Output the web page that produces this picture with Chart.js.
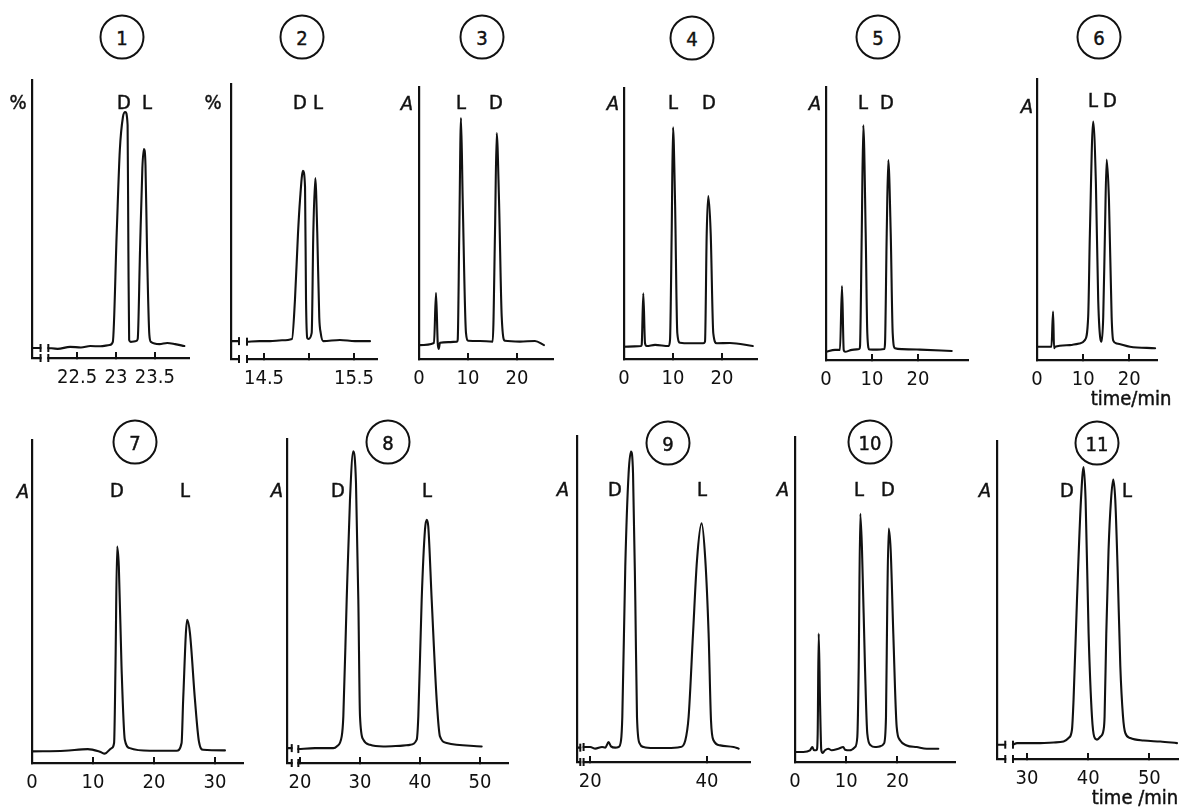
<!DOCTYPE html>
<html><head><meta charset="utf-8">
<script src="https://cdn.jsdelivr.net/npm/chart.js@4.4.1/dist/chart.umd.min.js"></script>
<style>
html,body{margin:0;padding:0;background:#fff;}
#page{position:relative;width:1179px;height:807px;overflow:hidden;background:#fff;}
#page canvas{position:absolute;}
.t{position:absolute;transform:translate(-50%,-50%);font-family:'Liberation Sans Narrow','DejaVu Sans Condensed','Liberation Sans',sans-serif;font-size:20px;color:#111;line-height:1;white-space:nowrap;-webkit-text-stroke:0.45px #111;}
.circ{width:41px;height:41px;border:2px solid #111;border-radius:50%;display:flex;align-items:center;justify-content:center;}
.ax{font-style:italic;}
</style></head><body><div id="page"></div>
<script>
// ---------- data ----------
const panelNumbers = ['1','2','3','4','5','6','7','8','9','10','11'];
const yAxisLabels  = ['%','%','A','A','A','A','A','A','A','A','A'];
const peakLabels = [['D','L'],['D','L'],['L','D'],['L','D'],['L','D'],['L','D'],['D','L'],['D','L'],['D','L'],['L','D'],['D','L']];

const p1Time   = [21.92,22.03,22.08,22.13,22.25,22.41,22.55,22.67,22.8,22.92,22.96,23.01,23.05,23.09,23.12,23.15,23.16,23.17,23.19,23.26,23.28,23.31,23.34,23.36,23.38,23.40,23.43,23.45,23.56,23.66,23.76,23.88];
const p1Signal = [3.6,3.6,null,3.6,3.3,4.0,3.8,4.3,4.2,4.7,5.8,45.0,74.8,86.7,88.5,83.8,38.8,6.5,5.8,6.1,6.8,38.8,68.3,75.2,69.4,38.8,8.3,5.8,5.0,5.4,5.0,4.3];
const p1Ticks = [22.5,23,23.5];
const p1TickLabels = ['22.5','23','23.5'];

const p2Time   = [14.133,14.222,14.27,14.311,14.45,14.567,14.7,14.811,14.844,14.878,14.9,14.933,14.956,14.967,14.981,14.994,15.03,15.048,15.07,15.092,15.114,15.13,15.159,15.344,15.511,15.678];
const p2Signal = [6.5,6.5,null,6.3,6.5,6.5,6.8,7.3,21.5,45.8,57.8,68.4,62.5,21.5,7.6,7.3,9.5,45.8,65.8,45.8,15.3,9.5,6.5,6.9,6.5,6.5];
const p2Ticks = [14.5,15,15.5];
const p2TickLabels = ['14.5','','15.5'];

const p3Time   = [0,3.06,3.47,3.82,4.02,4.29,6.0,7.76,7.9,8.22,8.57,8.92,9.59,10.06,12.45,15.04,15.51,15.86,16.33,16.88,17.55,20.6,23.67,25.5];
const p3Signal = [5.1,5.9,24.3,5.9,3.7,6.0,6.2,6.4,7.0,46.3,88.6,58.5,9.6,6.7,6.6,6.4,46.3,83.1,58.5,15.6,6.7,6.4,6.6,5.1];
const p3Ticks = [0,10,20];
const p3TickLabels = ['0','10','20'];

const p4Time   = [0,3.47,3.61,3.94,4.29,4.63,6.33,9.12,9.39,9.73,10.0,10.41,10.88,11.43,13.47,16.18,16.53,16.88,17.2,17.69,18.22,18.92,21.63,26.27];
const p4Signal = [4.5,4.8,5.2,24.2,5.8,4.8,5.2,4.8,7.0,46.5,85.5,58.7,9.5,6.0,5.8,5.8,6.4,46.4,60.1,46.4,9.5,5.8,5.9,4.8];
const p4Ticks = [0,10,20];
const p4TickLabels = ['0','10','20'];

const p5Time   = [0,1.96,3.04,3.48,3.85,4.13,5.65,7.24,7.39,7.76,8.11,8.63,8.98,9.41,11.09,12.67,12.83,13.2,13.54,14.07,14.5,15.0,16.52,20.43,27.33];
const p5Signal = [3.0,3.7,3.7,27.1,3.7,3.0,3.7,4.0,4.9,45.0,86.0,46.4,9.8,3.9,3.8,4.0,6.1,46.4,73.2,46.4,9.8,4.3,4.0,3.8,3.3];
const p5Ticks = [0,10,20];
const p5TickLabels = ['0','10','20'];

const p6Time   = [0,2.76,3.13,3.48,3.7,3.91,7.11,9.28,10.37,11.09,11.46,12.17,12.76,13.26,13.78,14.0,14.35,14.72,15.09,15.59,16.17,16.52,17.26,20.15,25.59];
const p6Signal = [4.7,4.7,4.7,17.2,4.2,4.7,5.3,5.9,7.1,15.4,45.1,84.9,62.9,21.4,7.1,6.5,15.4,45.1,71.3,57.0,15.4,6.9,5.9,4.7,4.2];
const p6Ticks = [0,10,20];
const p6TickLabels = ['0','10','20'];

const p7Time   = [0,5.37,9.15,11.12,11.94,13.04,13.46,13.69,13.96,14.24,14.68,15.22,16.04,19.33,23.71,24.53,24.79,25.45,25.9,26.72,27.37,28.08,31.64];
const p7Signal = [3.6,3.8,4.3,3.5,2.9,4.6,6.2,29.9,67.0,60.8,29.9,7.2,4.6,3.8,3.8,6.2,19.6,44.3,40.2,19.6,6.7,4.1,3.9];
const p7Ticks = [0,10,20,30];
const p7TickLabels = ['0','10','20','30'];

const p8Time   = [17.85,18.62,19.0,19.72,22.5,25.55,26.12,26.95,27.22,27.78,28.33,28.88,29.33,29.72,30.0,30.55,31.67,33.88,36.67,38.33,39.45,39.72,40.28,40.83,41.12,41.38,41.95,42.78,43.33,44.45,50.28];
const p8Signal = [4.6,4.6,null,4.3,4.6,4.6,5.1,8.2,14.4,50.4,81.3,96.2,86.4,50.4,14.4,7.2,5.6,5.1,5.3,5.6,7.2,14.4,50.4,72.0,75.1,73.0,50.4,19.5,8.2,6.2,5.1];
const p8Ticks = [20,30,40,50];
const p8TickLabels = ['20','30','40','50'];

const p9Time   = [17.72,18.28,18.5,18.85,20.0,20.86,22.01,22.57,23.14,23.55,24.29,24.85,25.27,25.49,26.0,26.57,26.98,27.33,27.72,28.01,28.46,29.14,30.86,33.16,35.44,36.29,36.86,37.62,38.3,39.09,39.73,40.29,40.70,41.15,42.30,44.58,45.44];
const p9Signal = [4.4,4.4,null,4.6,4.6,4.1,4.6,4.4,6.1,4.8,4.4,4.6,6.6,13.8,59.9,88.5,95.2,88.5,49.6,13.8,5.7,4.6,4.3,4.3,4.6,6.6,13.8,39.4,61.9,73.2,61.9,39.4,12.8,6.6,5.1,4.6,4.1];
const p9Ticks = [20,40];
const p9TickLabels = ['20','40'];

const p10Time   = [0,1.62,2.93,3.38,3.71,4.24,4.43,4.63,4.88,5.14,5.41,5.86,6.5,7.17,8.46,9.43,9.77,10.74,11.72,12.17,12.44,12.75,13.09,13.67,14.12,14.79,15.63,16.6,17.38,17.77,18.03,18.3,18.69,19.2,19.86,20.51,21.82,23.77,25.72,27.99];
const p10Signal = [3.1,3.1,3.6,4.6,3.6,3.7,8.7,39.5,19.0,3.6,2.8,3.6,4.1,3.6,4.1,4.6,3.8,3.6,4.6,7.7,29.2,76.4,65.1,29.2,8.7,5.1,4.6,4.8,5.7,13.8,49.8,71.8,65.1,39.5,10.8,6.7,5.1,4.6,4.1,4.1];
const p10Ticks = [0,10,20];
const p10TickLabels = ['0','10','20'];

const p11Time   = [25.1,26.45,27.0,27.71,28.37,30.0,32.17,34.35,35.98,36.8,37.35,37.61,38.17,38.82,39.25,39.58,40.07,40.62,40.99,41.44,41.98,42.52,42.68,42.96,43.33,43.73,44.1,44.43,44.8,45.25,45.69,46.06,46.88,49.05,51.78,54.51];
const p11Signal = [4.5,4.5,null,4.5,5.0,5.0,5.0,5.2,5.5,6.6,9.2,18.6,50.0,81.4,91.8,81.4,39.5,13.3,7.0,6.1,7.0,9.2,13.3,39.5,65.7,81.4,87.9,81.4,60.5,29.3,13.4,8.2,6.6,5.8,5.5,5.0];
const p11Ticks = [30,40,50];
const p11TickLabels = ['30','40','50'];

// axis ranges (min, max time) and break positions
const xRanges = [[21.92,23.94],[14.133,15.756],[0,27.35],[0,27.14],[0,30.87],[0,26.0],[0,34.6],[17.83,54.67],[17.72,47.39],[0,31.25],[25.1,54.68]];
const axisBreaks = [[22.03,22.13],[14.222,14.311],null,null,null,null,null,[18.62,19.72],[18.28,18.85],null,[26.45,27.71]];

const times   = [p1Time,p2Time,p3Time,p4Time,p5Time,p6Time,p7Time,p8Time,p9Time,p10Time,p11Time];
const signals = [p1Signal,p2Signal,p3Signal,p4Signal,p5Signal,p6Signal,p7Signal,p8Signal,p9Signal,p10Signal,p11Signal];
const tickVals = [p1Ticks,p2Ticks,p3Ticks,p4Ticks,p5Ticks,p6Ticks,p7Ticks,p8Ticks,p9Ticks,p10Ticks,p11Ticks];
const tickLbls = [p1TickLabels,p2TickLabels,p3TickLabels,p4TickLabels,p5TickLabels,p6TickLabels,p7TickLabels,p8TickLabels,p9TickLabels,p10TickLabels,p11TickLabels];

// ---------- layout (page pixels) ----------
const boxes = [
  {l:32,r:189,t:80,b:358},{l:231,r:377,t:84,b:359},{l:419,r:553,t:87,b:359},{l:624,r:757,t:88,b:359},
  {l:826,r:968,t:87,b:360},{l:1037,r:1157,t:79,b:360},
  {l:32,r:243,t:440,b:763},{l:287,r:508,t:439,b:763},{l:577,r:750,t:436,b:762},{l:795,r:955,t:437,b:762},{l:997,r:1178,t:441,b:759}
];
const circlePos = [[122,37],[302,37],[482,37],[692,38],[878,37],[1099,37],[135,442],[388,442],[668,443],[870,442],[1097,443]];
const yLabelPos = [[18,102],[213,102],[407,103],[613,103],[815,103],[1027,106],[23,491],[277,490],[563,489],[783,489],[985,490]];
const peakLabelPos = [[[124,102],[147,102]],[[300,102],[318,102]],[[461,102],[496,102]],[[673,102],[709,102]],[[863,102],[887,102]],[[1093,100],[1110,100]],
  [[117,490],[185,490]],[[338,490],[427,490]],[[615,489],[702,489]],[[859,489],[888,489]],[[1067,490],[1127,490]]];
const timeLabels = [{text:'time/min',x:1131,y:398},{text:'time /min',x:1135,y:797}];

const INK = '#111';
const FONT = "'Liberation Sans Narrow','DejaVu Sans Condensed','Liberation Sans',sans-serif";
const page = document.getElementById('page');

function addText(txt, x, y, cls) {
  const d = document.createElement('div');
  d.className = 't ' + (cls || '');
  d.textContent = txt;
  d.style.left = x + 'px'; d.style.top = y + 'px';
  page.appendChild(d);
}

const breakPlugin = {
  id: 'axisBreak',
  afterDatasetsDraw(chart) {
    const gap = chart.options.plugins.axisBreak && chart.options.plugins.axisBreak.gap;
    if (!gap) return;
    const xs = chart.scales.x, ys = chart.scales.y, ctx = chart.ctx;
    const a = xs.getPixelForValue(gap[0]), b = xs.getPixelForValue(gap[1]);
    const bottom = chart.chartArea.bottom;
    const pts = chart.data.datasets[0].data;
    const pa = pts.find(p => p.x === gap[0]), pb = pts.find(p => p.x === gap[1]);
    ctx.save();
    ctx.fillStyle = '#fff';
    ctx.fillRect(a + 1, bottom - 3, b - a - 2, 6);
    ctx.strokeStyle = INK; ctx.lineWidth = 2;
    const bar = (x, y) => { ctx.beginPath(); ctx.moveTo(x, y - 4); ctx.lineTo(x, y + 4); ctx.stroke(); };
    bar(a, bottom); bar(b, bottom);
    if (pa) bar(a, ys.getPixelForValue(pa.y));
    if (pb) bar(b, ys.getPixelForValue(pb.y));
    ctx.restore();
  }
};

const padL = 30, padR = 22, padT = 6, padB = 34;

panelNumbers.forEach((num, i) => {
  const bx = boxes[i];
  const cv = document.createElement('canvas');
  const w = bx.r - bx.l + padL + padR, h = bx.b - bx.t + padT + padB;
  cv.width = w; cv.height = h;
  cv.style.left = (bx.l - padL) + 'px'; cv.style.top = (bx.t - padT) + 'px';
  cv.style.width = w + 'px'; cv.style.height = h + 'px';
  page.appendChild(cv);
  const data = times[i].map((t, k) => ({x: t, y: signals[i][k]}));
  const ticks = tickVals[i], lbls = tickLbls[i];
  new Chart(cv.getContext('2d'), {
    type: 'line',
    data: { datasets: [{ data, borderColor: INK, borderWidth: 2.1, pointRadius: 0, cubicInterpolationMode: 'monotone', fill: false, spanGaps: false, borderJoinStyle: 'round', borderCapStyle: 'round' }] },
    options: {
      responsive: false, animation: false, devicePixelRatio: 1,
      layout: { padding: { left: padL, right: padR, top: padT, bottom: 0 } },
      plugins: { legend: { display: false }, tooltip: { enabled: false }, axisBreak: { gap: axisBreaks[i] } },
      scales: {
        x: {
          type: 'linear', min: xRanges[i][0], max: xRanges[i][1],
          afterBuildTicks: s => { s.ticks = ticks.map(v => ({ value: v })); },
          afterFit: s => { s.height = padB; },
          ticks: { autoSkip: false, maxRotation: 0, padding: 14, color: INK,
                   font: { family: FONT, size: 20 },
                   callback: (v, idx) => lbls[idx] },
          grid: { display: true, drawOnChartArea: false, drawTicks: true, tickLength: -6, color: INK, lineWidth: 2 },
          border: { display: true, color: INK, width: 2.2 }
        },
        y: {
          type: 'linear', min: 0, max: 100,
          afterFit: s => { s.width = 0; },
          ticks: { display: false },
          grid: { display: false, drawTicks: false },
          border: { display: true, color: INK, width: 2.2 }
        }
      }
    },
    plugins: [breakPlugin]
  });
  addText(num, circlePos[i][0], circlePos[i][1], 'circ');
  addText(yAxisLabels[i], yLabelPos[i][0], yLabelPos[i][1], yAxisLabels[i] === 'A' ? 'ax' : '');
  peakLabels[i].forEach((pl, k) => addText(pl, peakLabelPos[i][k][0], peakLabelPos[i][k][1]));
});
timeLabels.forEach(tl => addText(tl.text, tl.x, tl.y));
</script></body></html>
